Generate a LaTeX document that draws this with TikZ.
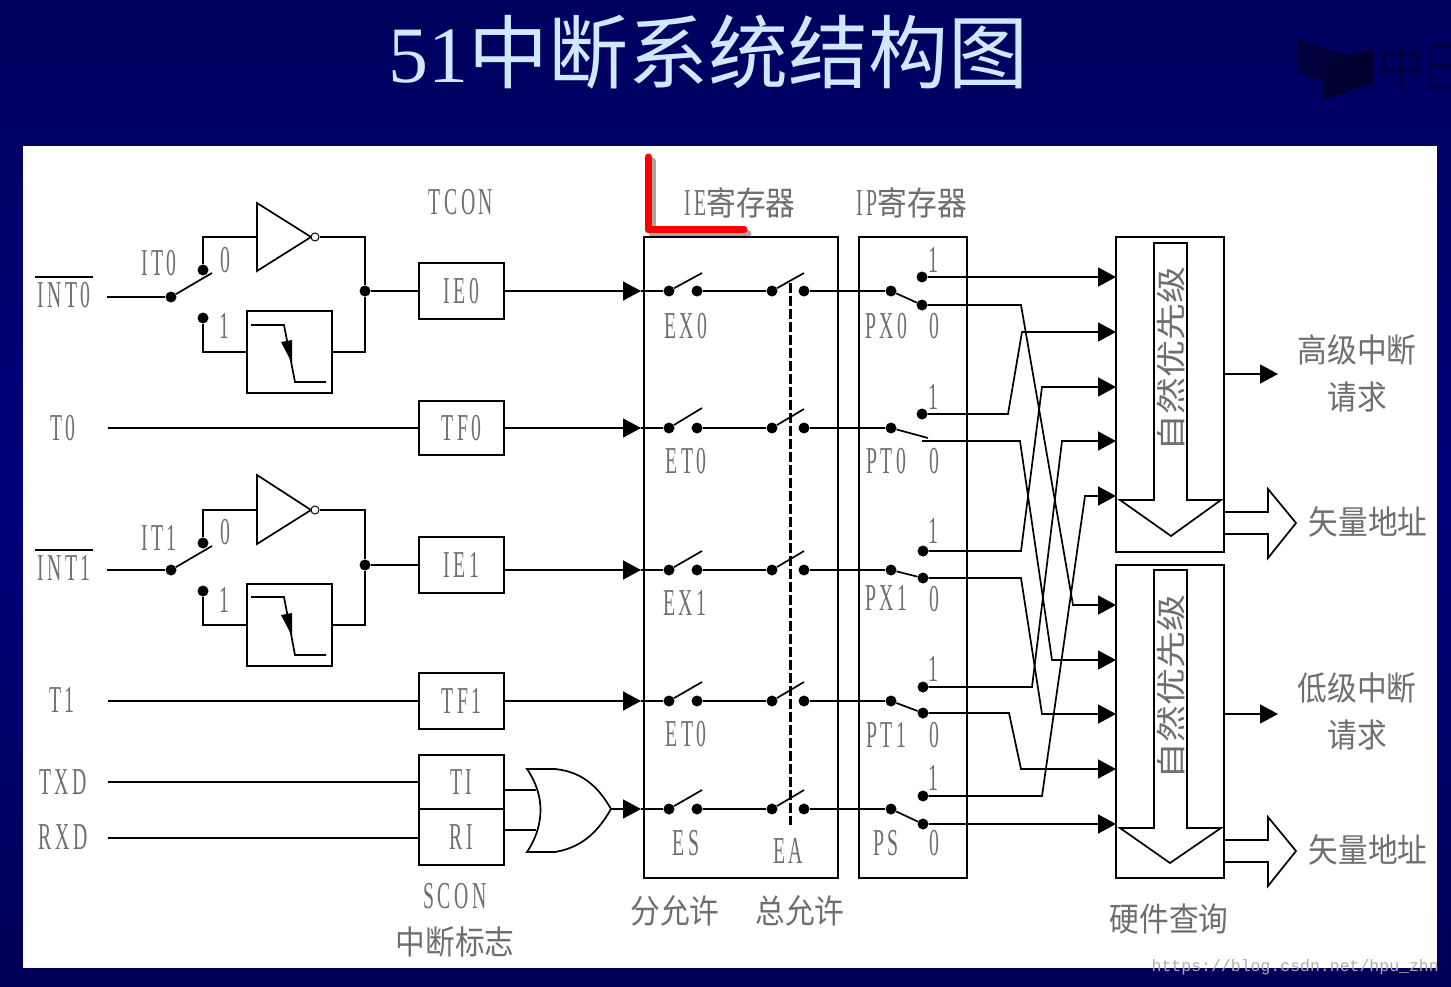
\documentclass[tikz,border=0pt]{standalone}
\usepackage{fontspec}
\usepackage{xcolor}
\usetikzlibrary{arrows.meta,positioning}
\newfontfamily\labfont[FakeStretch=0.52,LetterSpace=9]{Liberation Serif}
\newfontfamily\cjkfont[FakeStretch=0.9]{Noto Sans CJK SC}
\newfontfamily\prifont[FakeStretch=1.23]{Noto Sans CJK SC}
\newfontfamily\headfont{Noto Sans CJK SC}
\newfontfamily\numfont{Liberation Serif}
\newfontfamily\urlfont{Liberation Mono}
\definecolor{navytop}{HTML}{00005E}
\definecolor{navymid}{HTML}{00007A}
\definecolor{navybot}{HTML}{000058}
\definecolor{navydark}{HTML}{00003C}
\definecolor{inkgray}{HTML}{6E6E6E}
\definecolor{titleblue}{HTML}{CFE8FF}

\begin{document}
\begin{tikzpicture}[
    x=1pt, y=-1pt,
    box/.style={draw, line width=1.6pt, minimum width=85pt, minimum height=56pt,
                inner sep=0pt, text=inkgray, font=\labfont\fontsize{38}{38}\selectfont},
    lab/.style={inner sep=0pt, text=inkgray, font=\labfont\fontsize{38}{38}\selectfont},
    cjk/.style={inner sep=0pt, text=inkgray, font=\cjkfont\fontsize{33}{33}\selectfont},
    prio/.style={inner sep=0pt, rotate=90, text=inkgray, font=\prifont\fontsize{30}{30}\selectfont},
    wire/.style={line width=1.7pt},
    arr/.style={-{Triangle[length=18pt,width=19pt]}, line width=1.7pt},
    knob/.style={circle, fill=black, minimum size=11pt, inner sep=0pt},
    bubble/.style={circle, draw, line width=1pt, fill=white, minimum size=8pt, inner sep=0pt}
  ]
    \useasboundingbox (0,0) rectangle (1451,987);
    \shade[top color=navytop, bottom color=navybot, middle color=navymid] (0,0) rectangle (1451,987);
    \fill[navydark] (1298,39) -- (1347,55) -- (1347,88) -- (1298,73) -- cycle;
    \fill[navydark!80!black] (1323,65) -- (1347,55) -- (1373,49) -- (1373,83) -- (1323,100) -- cycle;
    \node[anchor=west, inner sep=0pt, text=navydark, font=\headfont\fontsize{46}{46}\selectfont] (mooc) at (1378,66) {中};
    \draw[navydark, line width=3pt] (1451,47) -- (1430,47) -- (1430,87) -- (1451,87);
    \draw[navydark, line width=3pt] (1430,66) -- (1451,66);
    \fill[white] (23,146) rectangle (1437,968);

    \node[anchor=west, inner sep=0pt, text=titleblue, font=\headfont\fontsize{80}{80}\selectfont] (title) at (388,52) {{\numfont 51}中断系统结构图};

    \coordinate (marka) at (648,157);
    \coordinate (markb) at (648,230);
    \coordinate (markc) at (744,230);
    \draw[black!35, line width=7pt, line cap=round, line join=round] ([shift={(4,4)}]marka) -- ([shift={(4,4)}]markb) -- ([shift={(4,4)}]markc);
    \draw[red, line width=7pt, line cap=round, line join=round] (marka) -- (markb) -- (markc);

    \node[lab, minimum width=58pt] (int0) at (64,295) {INT0};
    \node[lab] (t0) at (63,428) {T0};
    \node[lab, minimum width=58pt] (int1) at (64,568) {INT1};
    \node[lab] (t1) at (62,700) {T1};
    \node[lab] (txd) at (63,782) {TXD};
    \node[lab] (rxd) at (63,837) {RXD};
    \draw[wire] ([yshift=5pt]int0.north west) -- ([yshift=5pt]int0.north east);
    \draw[wire] ([yshift=5pt]int1.north west) -- ([yshift=5pt]int1.north east);
    \coordinate (int0w) at (107,297);
    \coordinate (t0w) at (108,428);
    \coordinate (int1w) at (107,570);
    \coordinate (t1w) at (108,701);
    \coordinate (txdw) at (108,782);
    \coordinate (rxdw) at (108,838);

    \node[lab] (tcon) at (461,202) {TCON};
    \node[box] (ie0) at (461.5,291) {IE0};
    \node[box, minimum height=54pt] (tf0) at (461.5,428) {TF0};
    \node[box] (ie1) at (461.5,565) {IE1};
    \node[box] (tf1) at (461.5,701) {TF1};
    \node[box, minimum height=54pt] (ti) at (461.5,782) {TI};
    \node[box] (ri) at (461.5,837) {RI};
    \node[lab] (scon) at (455,896) {SCON};
    \node[cjk] (flag) at (455,942) {中断标志};

    \node[knob] (it0c) at (171,297) {};
    \node[knob] (it0u) at (203,270) {};
    \node[knob] (it0d) at (203,318) {};
    \coordinate (it0e) at (212,273);
    \node[lab] (it0) at (159,263) {IT0};
    \node[lab] (it0z) at (225,260) {0};
    \node[lab] (it0o) at (224,326) {1};
    \draw[wire] (int0w) -- (it0c);
    \draw[wire] (it0c) -- (it0e);
    \coordinate (inv0i) at (257,237);
    \coordinate (inv0o) at (311,237);
    \draw[wire, fill=white] (257,203) -- (inv0o) -- (257,271) -- cycle;
    \node[bubble] (inv0b) at (315,237) {};
    \draw[wire] (it0u) -- (203,237) -- (inv0i);
    \node[box, minimum height=82pt] (st0) at (289.5,352) {};
    \draw[wire] (it0d) -- (203,352) -- (st0.west);
    \draw[wire] (251,325) -- (284,325) -- (295,382) -- (326,382);
    \fill (281,342) -- (292,340) -- (292,363) -- cycle;
    \node[knob] (jn0) at (365,291) {};
    \draw[wire] (inv0b) -- (365,237) -- (jn0);
    \draw[wire] (st0.east) -- (365,352) -- (jn0);
    \draw[wire] (jn0) -- (ie0);
    \draw[wire] (t0w) -- (tf0);

    \node[knob] (it1c) at (171,570) {};
    \node[knob] (it1u) at (203,543) {};
    \node[knob] (it1d) at (203,591) {};
    \coordinate (it1e) at (212,546);
    \node[lab] (it1) at (159,538) {IT1};
    \node[lab] (it1z) at (225,532) {0};
    \node[lab] (it1o) at (224,600) {1};
    \draw[wire] (int1w) -- (it1c);
    \draw[wire] (it1c) -- (it1e);
    \coordinate (inv1i) at (257,510);
    \coordinate (inv1o) at (311,510);
    \draw[wire, fill=white] (257,475) -- (inv1o) -- (257,544) -- cycle;
    \node[bubble] (inv1b) at (315,510) {};
    \draw[wire] (it1u) -- (203,510) -- (inv1i);
    \node[box, minimum height=82pt] (st1) at (289.5,625) {};
    \draw[wire] (it1d) -- (203,625) -- (st1.west);
    \draw[wire] (251,597) -- (284,597) -- (295,655) -- (326,655);
    \fill (281,615) -- (292,613) -- (292,636) -- cycle;
    \node[knob] (jn1) at (365,565) {};
    \draw[wire] (inv1b) -- (365,510) -- (jn1);
    \draw[wire] (st1.east) -- (365,625) -- (jn1);
    \draw[wire] (jn1) -- (ie1);
    \draw[wire] (t1w) -- (tf1);
    \draw[wire] (txdw) -- (ti);
    \draw[wire] (rxdw) -- (ri.west |- rxdw);

    \coordinate (ora) at (536,790);
    \coordinate (orb) at (536,830);
    \coordinate (oro) at (611,809);
    \draw[wire, fill=white] (527,769) -- (555,769) .. controls (585,772) and (600,790) .. (oro)
      .. controls (600,828) and (585,847) .. (555,852) -- (527,852)
      .. controls (545,825) and (545,795) .. (527,769) -- cycle;
    \draw[wire] (ti.east |- ora) -- (ora);
    \draw[wire] (ri.east |- orb) -- (orb);

    \node[draw, line width=1.6pt, minimum width=194pt, minimum height=641pt] (iebox) at (741,557.5) {};
    \node[draw, line width=1.6pt, minimum width=108pt, minimum height=641pt] (ipbox) at (913,557.5) {};
    \node[cjk] (iereg) at (740,203) {{\labfont\fontsize{38}{38}\selectfont IE}寄存器};
    \node[cjk] (ipreg) at (912,203) {{\labfont\fontsize{38}{38}\selectfont IP}寄存器};

    \coordinate (ex0t) at (641,291);
    \node[knob] (ex0l) at (669,291) {};
    \node[knob] (ex0r) at (697,291) {};
    \coordinate (ex0e) at (702,273);
    \node[knob] (ea0l) at (772,291) {};
    \node[knob] (ea0r) at (804,291) {};
    \coordinate (ea0e) at (804,273);
    \node[knob] (px0c) at (891,291) {};
    \node[knob] (px0u) at (922,277) {};
    \node[knob] (px0d) at (922,305) {};
    \draw[arr] (ie0) -- (ex0t);
    \draw[wire] (ex0t) -- (ex0l);
    \draw[wire] (ex0l) -- (ex0e);
    \draw[wire] (ex0r) -- (ea0l);
    \draw[wire] (ea0l) -- (ea0e);
    \draw[wire] (ea0r) -- (px0c);
    \draw[wire] (px0c) -- (px0d);
    \node[lab] (ex0) at (686,326) {EX0};
    \node[lab] (px0) at (886,326) {PX0};
    \node[lab] (px0z) at (934,326) {0};
    \node[lab] (px0o) at (933,260) {1};

    \coordinate (et0t) at (641,428);
    \node[knob] (et0l) at (669,428) {};
    \node[knob] (et0r) at (697,428) {};
    \coordinate (et0e) at (702,408);
    \node[knob] (ea1l) at (772,428) {};
    \node[knob] (ea1r) at (804,428) {};
    \coordinate (ea1e) at (804,409);
    \node[knob] (pt0c) at (891,428) {};
    \node[knob] (pt0u) at (922,414) {};
    \coordinate (pt0d) at (922,441);
    \coordinate (pt0e) at (928,438);
    \draw[arr] (tf0) -- (et0t);
    \draw[wire] (et0t) -- (et0l);
    \draw[wire] (et0l) -- (et0e);
    \draw[wire] (et0r) -- (ea1l);
    \draw[wire] (ea1l) -- (ea1e);
    \draw[wire] (ea1r) -- (pt0c);
    \draw[wire] (pt0c) -- (pt0e);
    \node[lab] (et0) at (686,461) {ET0};
    \node[lab] (pt0) at (886,461) {PT0};
    \node[lab] (pt0z) at (934,461) {0};
    \node[lab] (pt0o) at (933,397) {1};

    \coordinate (ex1t) at (641,570);
    \node[knob] (ex1l) at (669,570) {};
    \node[knob] (ex1r) at (697,570) {};
    \coordinate (ex1e) at (702,551);
    \node[knob] (ea2l) at (772,570) {};
    \node[knob] (ea2r) at (804,570) {};
    \coordinate (ea2e) at (804,551);
    \node[knob] (px1c) at (891,570) {};
    \node[knob] (px1u) at (923,551) {};
    \node[knob] (px1d) at (923,578) {};
    \draw[arr] (ie1.east |- ex1t) -- (ex1t);
    \draw[wire] (ex1t) -- (ex1l);
    \draw[wire] (ex1l) -- (ex1e);
    \draw[wire] (ex1r) -- (ea2l);
    \draw[wire] (ea2l) -- (ea2e);
    \draw[wire] (ea2r) -- (px1c);
    \draw[wire] (px1c) -- (px1d);
    \node[lab] (ex1) at (685,603) {EX1};
    \node[lab] (px1) at (886,598) {PX1};
    \node[lab] (px1z) at (934,599) {0};
    \node[lab] (px1o) at (933,531) {1};

    \coordinate (et1t) at (641,701);
    \node[knob] (et1l) at (669,701) {};
    \node[knob] (et1r) at (697,701) {};
    \coordinate (et1e) at (702,682);
    \node[knob] (ea3l) at (772,701) {};
    \node[knob] (ea3r) at (804,701) {};
    \coordinate (ea3e) at (804,682);
    \node[knob] (pt1c) at (891,701) {};
    \node[knob] (pt1u) at (923,687) {};
    \node[knob] (pt1d) at (923,713) {};
    \draw[arr] (tf1) -- (et1t);
    \draw[wire] (et1t) -- (et1l);
    \draw[wire] (et1l) -- (et1e);
    \draw[wire] (et1r) -- (ea3l);
    \draw[wire] (ea3l) -- (ea3e);
    \draw[wire] (ea3r) -- (pt1c);
    \draw[wire] (pt1c) -- (pt1d);
    \node[lab] (et1) at (686,734) {ET0};
    \node[lab] (pt1) at (886,735) {PT1};
    \node[lab] (pt1z) at (934,735) {0};
    \node[lab] (pt1o) at (933,669) {1};

    \coordinate (est) at (641,809);
    \node[knob] (esl) at (669,809) {};
    \node[knob] (esr) at (697,809) {};
    \coordinate (ese) at (702,790);
    \node[knob] (ea4l) at (772,809) {};
    \node[knob] (ea4r) at (804,809) {};
    \coordinate (ea4e) at (804,790);
    \node[knob] (psc) at (891,809) {};
    \node[knob] (psu) at (923,796) {};
    \node[knob] (psd) at (923,824) {};
    \draw[arr] (oro) -- (est);
    \draw[wire] (est) -- (esl);
    \draw[wire] (esl) -- (ese);
    \draw[wire] (esr) -- (ea4l);
    \draw[wire] (ea4l) -- (ea4e);
    \draw[wire] (ea4r) -- (psc);
    \draw[wire] (psc) -- (psd);
    \node[lab] (es) at (686,843) {ES};
    \node[lab] (ea) at (788,851) {EA};
    \node[lab] (ps) at (886,843) {PS};
    \node[lab] (psz) at (934,843) {0};
    \node[lab] (pso) at (933,778) {1};

    \coordinate (eatop) at (790,283);
    \coordinate (eabot) at (790,825);
    \draw[line width=3pt, dash pattern=on 10pt off 3pt] (eatop) -- (eabot);

    \node[cjk] (subok) at (675,911) {分允许};
    \node[cjk] (allok) at (800,911) {总允许};

    \node[draw, line width=1.6pt, minimum width=108pt, minimum height=315pt] (hibox) at (1170,394.5) {};
    \node[draw, line width=1.6pt, minimum width=108pt, minimum height=313pt] (lobox) at (1170,721.5) {};
    \node[cjk] (query) at (1169,919) {硬件查询};

    \draw[wire] (1154,243) -- (1187,243) -- (1187,500) -- (1221,500) -- (1171,536) -- (1120,500) -- (1154,500) -- cycle;
    \draw[wire] (1154,570) -- (1187,570) -- (1187,828) -- (1221,828) -- (1170,863) -- (1120,828) -- (1154,828) -- cycle;
    \node[prio] (hiprio) at (1171,359) {自然优先级};
    \node[prio] (loprio) at (1171,687) {自然优先级};

    \coordinate (hia) at (1116,277);
    \coordinate (hib) at (1116,332);
    \coordinate (hic) at (1116,387);
    \coordinate (hid) at (1116,441);
    \coordinate (hie) at (1116,496);
    \coordinate (loa) at (1116,605);
    \coordinate (lob) at (1116,660);
    \coordinate (loc) at (1116,714);
    \coordinate (lod) at (1116,769);
    \coordinate (loe) at (1116,824);
    \draw[arr] (px0u) -- (hia);
    \draw[arr] (px0d) -- (1021,305) -- (1073,605) -- (loa);
    \draw[arr] (pt0u) -- (1008,414) -- (1022,332) -- (hib);
    \draw[arr] (pt0d) -- (1020,441) -- (1052,660) -- (lob);
    \draw[arr] (px1u) -- (1021,551) -- (1042,387) -- (hic);
    \draw[arr] (px1d) -- (1021,578) -- (1042,714) -- (loc);
    \draw[arr] (pt1u) -- (1032,687) -- (1062,441) -- (hid);
    \draw[arr] (pt1d) -- (1009,713) -- (1021,769) -- (lod);
    \draw[arr] (psu) -- (1042,796) -- (1085,496) -- (hie);
    \draw[arr] (psd) -- (loe);

    \coordinate (hiout) at (1278,374);
    \coordinate (loout) at (1278,714);
    \draw[arr] (hibox.east |- hiout) -- (hiout);
    \draw[arr] (lobox.east |- loout) -- (loout);
    \draw[wire] (1224,512) -- (1268,512) -- (1268,489) -- (1296,523) -- (1268,558) -- (1268,534) -- (1224,534);
    \draw[wire] (1224,840) -- (1268,840) -- (1268,817) -- (1296,851) -- (1268,886) -- (1268,862) -- (1224,862);

    \node[cjk] (hireq) at (1357,350) {高级中断};
    \node[cjk] (hireqb) at (1357,397) {请求};
    \node[cjk] (hivec) at (1368,522) {矢量地址};
    \node[cjk] (loreq) at (1357,688) {低级中断};
    \node[cjk] (loreqb) at (1357,735) {请求};
    \node[cjk] (lovec) at (1368,850) {矢量地址};

    \node[anchor=east, inner sep=0pt, text=black!32, font=\urlfont\fontsize{16.5}{16.5}\selectfont] (csdn) at (1439,967) {https://blog.csdn.net/hpu\_zhn};
  \end{tikzpicture}
\end{document}
